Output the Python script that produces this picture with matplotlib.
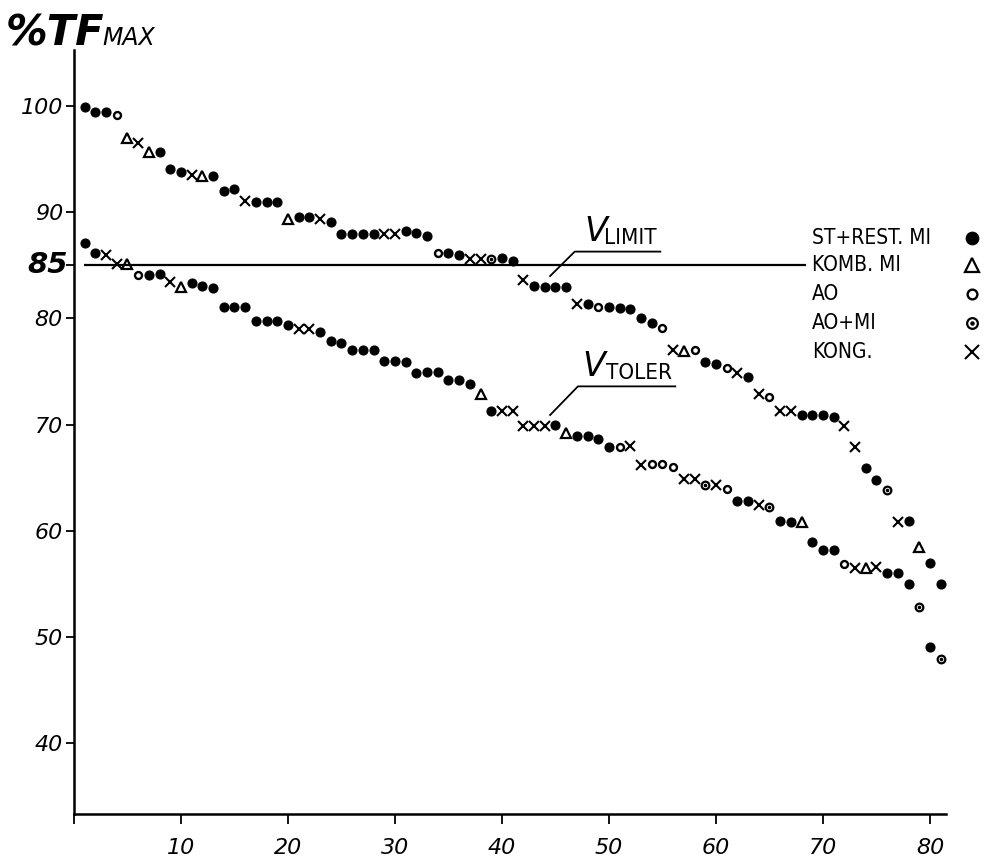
import numpy as np
import matplotlib
matplotlib.use("Agg")
import matplotlib.pyplot as plt

# sample number 1..81
x_pos = list(range(1, 82))

# upper series (V limit) and lower series (V toler), %TF max
limit_vals = [99.9, 99.5, 99.5, 99.2, 97.0, 96.5, 95.7, 95.7, 94.1, 93.8,
              93.5, 93.4, 93.4, 92.0, 92.2, 91.1, 91.0, 91.0, 91.0, 89.4,
              89.6, 89.6, 89.4, 89.1, 88.0, 88.0, 88.0, 88.0, 88.0, 88.0,
              88.2, 88.1, 87.8, 86.2, 86.2, 86.0, 85.6, 85.6, 85.6, 85.7,
              85.4, 83.6, 83.1, 83.0, 83.0, 83.0, 81.4, 81.4, 81.1, 81.1,
              81.0, 80.9, 80.0, 79.6, 79.1, 77.0, 76.9, 77.0, 75.9, 75.7,
              75.3, 74.9, 74.5, 72.9, 72.6, 71.3, 71.3, 70.9, 70.9, 70.9,
              70.7, 69.9, 67.9, 65.9, 64.8, 63.8, 60.8, 60.9, 58.5, 57.0,
              55.0]
# S = ST+REST. MI, K = KOMB. MI, A = AO, M = AO+MI, X = KONG.
limit_kind = ("SSSAKXKSSS" "XKSSSXSSSK" "SSXSSSSSXX" "SSSASSXXMS"
              "SXSSSSXSAS" "SSSSAXKASS" "AXSXAXXSSS" "SXXSSMXSKS" "S")

toler_vals = [87.1, 86.2, 86.0, 85.1, 85.1, 84.1, 84.1, 84.2, 83.4, 83.0,
              83.3, 83.1, 82.9, 81.1, 81.1, 81.1, 79.8, 79.8, 79.8, 79.4,
              79.0, 79.0, 78.7, 77.9, 77.7, 77.0, 77.0, 77.0, 76.0, 76.0,
              75.9, 74.9, 75.0, 75.0, 74.2, 74.2, 73.8, 72.9, 71.3, 71.3,
              71.3, 69.9, 69.9, 69.9, 70.0, 69.2, 68.9, 68.9, 68.6, 67.9,
              67.9, 68.0, 66.2, 66.3, 66.3, 66.0, 64.9, 64.9, 64.3, 64.3,
              63.9, 62.8, 62.8, 62.4, 62.2, 60.9, 60.8, 60.8, 58.9, 58.2,
              58.2, 56.9, 56.5, 56.5, 56.6, 56.0, 56.0, 55.0, 52.8, 49.0,
              47.9]
toler_kind = ("SSXXKASSXK" "SSSSSSSSSS" "XXSSSSSSSS" "SSSSSSSKSX"
              "XXXXSKSSSS" "AXXAAAXXMX" "ASSXMSSKSS" "SAXKXSSSMS" "M")

legend_labels = ["ST+REST. MI", "KOMB. MI", "AO", "AO+MI", "KONG."]
legend_kinds = ["S", "K", "A", "M", "X"]

y_ticks = [40, 50, 60, 70, 80, 90, 100]
x_ticks = [10, 20, 30, 40, 50, 60, 70, 80]
limit_level = 85

styles = {
    "S": dict(marker="o", ms=6.5, mfc="black", mec="black", mew=0.8),
    "K": dict(marker="^", ms=7, mfc="white", mec="black", mew=1.6),
    "A": dict(marker="o", ms=5, mfc="white", mec="black", mew=1.7),
    "M": dict(marker="o", ms=5.5, mfc="white", mec="black", mew=1.6),
    "X": dict(marker="x", ms=7, mec="black", mew=1.5),
}


def draw_kind(ax, xs, ys, kind, big=1.0, **kw):
    st = dict(styles[kind])
    st["ms"] = st["ms"] * big
    ax.plot(xs, ys, ls="none", **st, **kw)
    if kind == "M":
        ax.plot(xs, ys, ls="none", marker="o", ms=1.6 * big, mfc="black",
                mec="black", **kw)


fig = plt.figure(figsize=(9.84, 8.57), dpi=100)
ax = fig.add_axes([74 / 984, 1 - 814 / 857, 872 / 984, 764 / 857])
ax.set_xlim(0, 81.5)
ax.set_ylim(33.3, 105.3)

xa = np.array(x_pos)
for vals, kinds in [(limit_vals, limit_kind), (toler_vals, toler_kind)]:
    va = np.array(vals)
    ka = np.array(list(kinds))
    for k in styles:
        m = ka == k
        if m.any():
            draw_kind(ax, xa[m], va[m], k)

# 85 % line
ax.hlines(limit_level, 0.9, 68.4, color="black", lw=1.6)

# leader lines and labels
ax.plot([44.5, 46.8, 54.8], [84.0, 86.3, 86.3], color="black", lw=1.3)
ax.plot([44.5, 47.1, 56.2], [70.9, 73.6, 73.6], color="black", lw=1.3)
ax.text(47.7, 86.6, "V", fontsize=24, style="italic", va="bottom", ha="left")
ax.text(49.5, 86.6, "LIMIT", fontsize=16, fontstretch="condensed",
        va="bottom", ha="left")
ax.text(47.5, 73.9, "V", fontsize=24, style="italic", va="bottom", ha="left")
ax.text(49.7, 73.9, "TOLER", fontsize=16, fontstretch="condensed",
        va="bottom", ha="left")

# axes styling
for s in ["top", "right"]:
    ax.spines[s].set_visible(False)
for s in ["left", "bottom"]:
    ax.spines[s].set_linewidth(1.8)

ax.set_yticks(y_ticks + [limit_level])
ax.set_yticklabels([str(v) for v in y_ticks] + [""], fontsize=16, style="italic")
ax.set_xticks([0] + x_ticks)
ax.set_xticklabels([""] + [str(v) for v in x_ticks], fontsize=16, style="italic")
ax.tick_params(axis="y", direction="out", length=6, width=1.3, pad=2)
ax.tick_params(axis="x", direction="out", length=7, width=1.3, pad=10)
ax.text(-0.6, limit_level, "85", fontsize=21, fontweight="bold", style="italic",
        ha="right", va="center", transform=ax.transData, clip_on=False)

# axis title
fig.text(6 / 984, 1 - 46 / 857, "%TF", fontsize=30, fontweight="bold",
         style="italic", ha="left", va="baseline")
fig.text(102 / 984, 1 - 45 / 857, "MAX", fontsize=17, style="italic",
         ha="left", va="baseline")

# legend: text then marker
rows = [238, 265, 294, 323, 352]
for lab, k, r in zip(legend_labels, legend_kinds, rows):
    fig.text(812 / 984, 1 - r / 857, lab, fontsize=15, fontstretch="condensed",
             ha="left", va="center")
    draw_kind(ax, [972 / 984], [1 - r / 857], k, big=1.4,
              transform=fig.transFigure, clip_on=False)

fig.savefig("out.png", dpi=100)
